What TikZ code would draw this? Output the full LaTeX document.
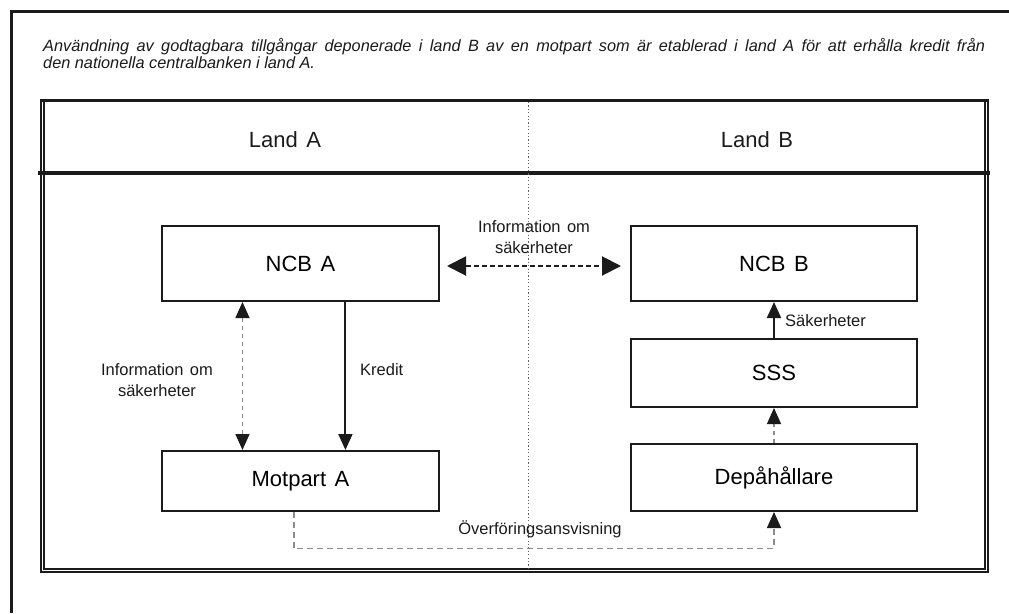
\documentclass[tikz,border=0pt]{standalone}
\usepackage{fontspec}
\setmainfont{Liberation Sans}[WordSpace=1.4]
\newfontfamily\titlefam{Liberation Sans}
\usetikzlibrary{arrows.meta,calc}
\definecolor{ink}{HTML}{1B1B1B}
\definecolor{dgray}{HTML}{8C8C8C}
\tikzset{
  box/.style={draw=ink, line width=2pt, inner sep=0pt, font=\fontsize{22}{26}\selectfont},
  lbl/.style={inner sep=0pt, font=\fontsize{16.5}{20.5}\selectfont, align=center, text=ink},
  hdr/.style={inner sep=0pt, font=\fontsize{22}{26}\selectfont, text=ink},
  ttl/.style={inner sep=0pt, anchor=base west, font=\titlefam\itshape\fontsize{16.3}{17}\selectfont, text=ink},
  solidarrow/.style={draw=ink, line width=2pt, -{Triangle[length=16pt,width=14pt]}},
  grayarrow/.style={draw=dgray, line width=1.3pt, dash pattern=on 4pt off 4pt},
}
\begin{document}
\begin{tikzpicture}[x=1pt,y=-1pt]
\useasboundingbox (0,0) rectangle (1009,613);
\fill[white] (0,0) rectangle (1009,613);
% outer frame (top and left)
\draw[ink, line width=3.2pt] (11.5,613) -- (11.5,11.5) -- (1009,11.5);
% title
\node[ttl] (title1) at (43,51) {\makebox[942pt][s]{Användning av godtagbara tillgångar deponerade i land B av en motpart som är etablerad i land A för att erhålla kredit från}};
\node[ttl] (title2) at (43,68) {den nationella centralbanken i land A.};
% inner double frame
\draw[ink, line width=2pt] (41,100.5) rectangle (988,572);
\draw[ink, line width=1.8pt] (44,100.5) rectangle (985,569);
\draw[ink, line width=3.2pt] (40,100.5) -- (989,100.5);
\draw[ink, line width=4pt] (38,173) -- (990,173);
% dotted divider
\draw[dgray!70!black, line width=0.9pt, dash pattern=on 1.2pt off 2.2pt] (528,102) -- (528,568);
% header labels
\node[hdr] (landa) at (285,140) {Land A};
\node[hdr] (landb) at (757,140) {Land B};
% boxes
\node[box, minimum width=277pt, minimum height=75pt] (ncba) at (300.5,263.5) {NCB A};
\node[box, minimum width=286pt, minimum height=75pt] (ncbb) at (774,263.5) {NCB B};
\node[box, minimum width=286pt, minimum height=68pt] (sss) at (774,373) {SSS};
\node[box, minimum width=286pt, minimum height=67pt] (dep) at (774,477.5) {Depåhållare};
\node[box, minimum width=277pt, minimum height=60pt] (mota) at (300.5,481) {Motpart A};
% horizontal info arrow
\draw[ink, line width=2pt, dash pattern=on 5pt off 3pt,
      {Triangle[length=19pt,width=19pt]}-{Triangle[length=19pt,width=19pt]},
      shorten <=7pt, shorten >=9pt]
  ([yshift=-2.5pt]ncba.east) -- ([yshift=-2.5pt]ncbb.west);
\node[lbl] (infotop) at (534,237) {Information om\\säkerheter};
% left info arrow (gray dashed, double headed)
\draw[grayarrow, {Triangle[length=16pt,width=14pt,color=ink]}-{Triangle[length=16pt,width=14pt,color=ink]}]
  ($(ncba.south west)!0.292!(ncba.south east)$) -- ($(mota.north west)!0.292!(mota.north east)$);
\node[lbl] (infoleft) at (157,380) {Information om\\säkerheter};
% Kredit arrow
\draw[solidarrow]
  ($(ncba.south west)!0.661!(ncba.south east)$) -- ($(mota.north west)!0.661!(mota.north east)$);
\node[lbl, anchor=west] (kredit) at (360,370) {Kredit};
% Säkerheter arrow
\draw[solidarrow] (sss.north) -- (ncbb.south);
\node[lbl, anchor=west] (sak) at (785,321) {Säkerheter};
% Depåhållare -> SSS
\draw[grayarrow, -{Triangle[length=16pt,width=14pt,color=ink]}] (dep.north) -- (sss.south);
% bottom transfer instruction
\coordinate (bot) at (528,548.5);
\draw[draw=dgray, line width=1.5pt, dash pattern=on 6pt off 4pt, -{Triangle[length=16pt,width=14pt,color=ink]}]
  ($(mota.south west)!0.476!(mota.south east)$) |- (bot) -| (dep.south);
\node[lbl] (overf) at (540,529) {Överföringsansvisning};
\end{tikzpicture}
\end{document}
